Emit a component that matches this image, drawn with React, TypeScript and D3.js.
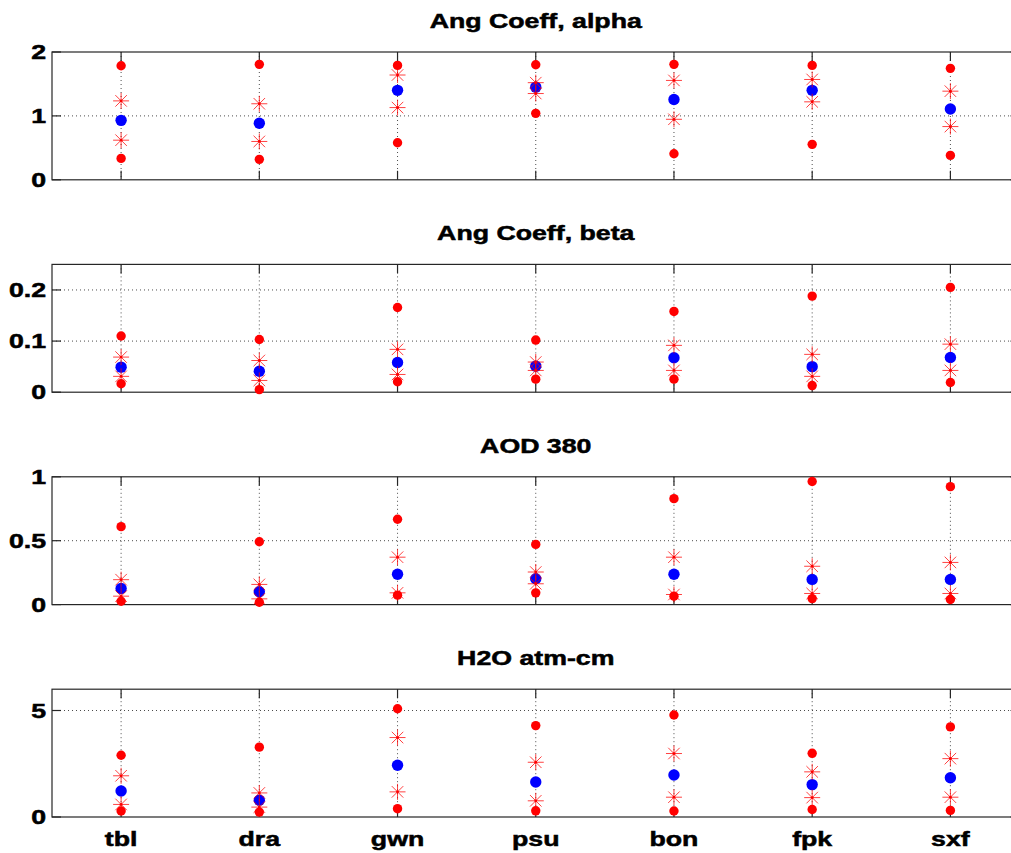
import React from "react";
import * as d3 from "d3";

// Station codes along the x axis
const stations = ["tbl", "dra", "gwn", "psu", "bon", "fpk", "sxf"];

// Angstrom coefficient alpha: max, upper quartile, mean, lower quartile, min
const alphaHi = [1.785, 1.807, 1.79, 1.8, 1.807, 1.79, 1.744];
const alphaUq = [1.235, 1.19, 1.64, 1.52, 1.555, 1.57, 1.387];
const alphaMid = [0.93, 0.885, 1.4, 1.45, 1.257, 1.4, 1.109];
const alphaLq = [0.62, 0.6, 1.13, 1.35, 0.947, 1.22, 0.833];
const alphaLo = [0.335, 0.32, 0.58, 1.04, 0.408, 0.555, 0.382];

// Angstrom coefficient beta
const betaHi = [0.11, 0.103, 0.1656, 0.102, 0.158, 0.188, 0.205];
const betaUq = [0.0687, 0.062, 0.0838, 0.059, 0.0916, 0.074, 0.094];
const betaMid = [0.049, 0.041, 0.058, 0.051, 0.0675, 0.05, 0.068];
const betaLq = [0.031, 0.023, 0.0347, 0.0426, 0.0426, 0.031, 0.0426];
const betaLo = [0.0165, 0.005, 0.0204, 0.0255, 0.0255, 0.013, 0.019];

// Aerosol optical depth at 380 nm
const aodHi = [0.61, 0.492, 0.668, 0.471, 0.829, 0.963, 0.923];
const aodUq = [0.195, 0.158, 0.371, 0.255, 0.371, 0.3, 0.33];
const aodMid = [0.126, 0.1, 0.237, 0.203, 0.237, 0.197, 0.197];
const aodLq = [0.066, 0.045, 0.092, 0.163, 0.079, 0.087, 0.087];
const aodLo = [0.026, 0.018, 0.074, 0.092, 0.066, 0.047, 0.04];

// Precipitable water, atm-cm
const h2oHi = [2.9, 3.28, 5.08, 4.29, 4.79, 2.99, 4.23];
const h2oUq = [1.935, 1.13, 3.73, 2.57, 2.98, 2.12, 2.74];
const h2oMid = [1.22, 0.79, 2.43, 1.64, 1.97, 1.52, 1.84];
const h2oLq = [0.59, 0.465, 1.18, 0.76, 0.93, 0.91, 0.93];
const h2oLo = [0.28, 0.23, 0.39, 0.29, 0.28, 0.35, 0.31];

// Panel titles, y limits and y tick labels
const titles = ["Ang Coeff, alpha", "Ang Coeff, beta", "AOD 380", "H2O atm-cm"];
const yMax = [2, 0.25, 1, 6];
const alphaTicks = [0, 1, 2];
const betaTicks = [0, 0.1, 0.2];
const aodTicks = [0, 0.5, 1];
const h2oTicks = [0, 5];

const panels = [
  { title: titles[0], max: yMax[0], ticks: alphaTicks, hi: alphaHi, uq: alphaUq, mid: alphaMid, lq: alphaLq, lo: alphaLo },
  { title: titles[1], max: yMax[1], ticks: betaTicks, hi: betaHi, uq: betaUq, mid: betaMid, lq: betaLq, lo: betaLo },
  { title: titles[2], max: yMax[2], ticks: aodTicks, hi: aodHi, uq: aodUq, mid: aodMid, lq: aodLq, lo: aodLo },
  { title: titles[3], max: yMax[3], ticks: h2oTicks, hi: h2oHi, uq: h2oUq, mid: h2oMid, lq: h2oLq, lo: h2oLo },
];

const W = 1011;
const H = 853;
const left = 52;
const right = 1019.5;
const firstTop = 52;
const pitch = 212.4;
const panelH = 127.8;
const tickLen = 9;
const fontSize = 19.5;
const stretch = 1.37;
const font = "'Liberation Sans', Arial, Helvetica, sans-serif";

const x = d3.scaleLinear().domain([0.5, stations.length + 0.5]).range([left, right]);

function Label({ x: tx, y: ty, text, anchor }: { x: number; y: number; text: string; anchor: string }) {
  return (
    <text
      transform={`translate(${tx},${ty}) scale(${stretch},1)`}
      textAnchor={anchor}
      fontFamily={font}
      fontWeight="bold"
      fontSize={fontSize}
      fill="#000"
      stroke="#000"
      strokeWidth={0.5}
    >
      {text}
    </text>
  );
}

function Asterisk({ cx, cy }: { cx: number; cy: number }) {
  const r = 8;
  const d = r * 0.72;
  return (
    <g stroke="#ff0000" strokeWidth={1} strokeOpacity={0.75}>
      <line x1={cx - r} y1={cy} x2={cx + r} y2={cy} />
      <line x1={cx} y1={cy - r} x2={cx} y2={cy + r} />
      <line x1={cx - d} y1={cy - d} x2={cx + d} y2={cy + d} />
      <line x1={cx - d} y1={cy + d} x2={cx + d} y2={cy - d} />
      <circle cx={cx} cy={cy} r={1.4} fill="#ff0000" stroke="none" />
    </g>
  );
}

function Panel({ p, i }: { p: (typeof panels)[number]; i: number }) {
  const top = firstTop + i * pitch;
  const bottom = top + panelH;
  const y = d3.scaleLinear().domain([0, p.max]).range([bottom, top]);
  const fmt = (v: number) => String(v);
  return (
    <g>
      {/* dotted grid */}
      <g stroke="#000" strokeWidth={1} strokeDasharray="1,3" strokeOpacity={0.7}>
        {stations.map((s, k) => (
          <line key={s} x1={x(k + 1)} x2={x(k + 1)} y1={top} y2={bottom} />
        ))}
        {p.ticks
          .filter((t) => t > 0 && t < p.max)
          .map((t) => (
            <line key={t} x1={left} x2={right} y1={y(t)} y2={y(t)} />
          ))}
      </g>
      {/* box and inward ticks */}
      <g stroke="#262626" strokeWidth={1.2} fill="none">
        <rect x={left} y={top} width={right - left} height={panelH} />
        {stations.map((s, k) => (
          <g key={s}>
            <line x1={x(k + 1)} x2={x(k + 1)} y1={top} y2={top + tickLen} />
            <line x1={x(k + 1)} x2={x(k + 1)} y1={bottom} y2={bottom - tickLen} />
          </g>
        ))}
        {p.ticks.map((t) => (
          <g key={t}>
            <line x1={left} x2={left + tickLen} y1={y(t)} y2={y(t)} />
            <line x1={right} x2={right - tickLen} y1={y(t)} y2={y(t)} />
          </g>
        ))}
      </g>
      {/* data markers */}
      {p.hi.map((v, k) => (
        <circle key={`hi${k}`} cx={x(k + 1)} cy={y(v)} r={4.7} fill="#ff0000" />
      ))}
      {p.lo.map((v, k) => (
        <circle key={`lo${k}`} cx={x(k + 1)} cy={y(v)} r={4.7} fill="#ff0000" />
      ))}
      {p.mid.map((v, k) => (
        <circle key={`mid${k}`} cx={x(k + 1)} cy={y(v)} r={5.7} fill="#0000ff" />
      ))}
      {p.uq.map((v, k) => (
        <Asterisk key={`uq${k}`} cx={x(k + 1)} cy={y(v)} />
      ))}
      {p.lq.map((v, k) => (
        <Asterisk key={`lq${k}`} cx={x(k + 1)} cy={y(v)} />
      ))}
      {/* y tick labels */}
      {p.ticks.map((t) => (
        <Label key={t} x={left - 6} y={y(t) + 7} text={fmt(t)} anchor="end" />
      ))}
      {/* title */}
      <Label x={(left + right) / 2} y={top - 24} text={p.title} anchor="middle" />
      {i === panels.length - 1 &&
        stations.map((s, k) => <Label key={s} x={x(k + 1)} y={bottom + 29} text={s} anchor="middle" />)}
    </g>
  );
}

export default function App() {
  return (
    <svg
      width={W}
      height={H}
      viewBox={`0 0 ${W} ${H}`}
      style={{ position: "absolute", left: 0, top: 0, background: "#fff" }}
    >
      <rect width={W} height={H} fill="#fff" />
      {panels.map((p, i) => (
        <Panel key={p.title} p={p} i={i} />
      ))}
    </svg>
  );
}
